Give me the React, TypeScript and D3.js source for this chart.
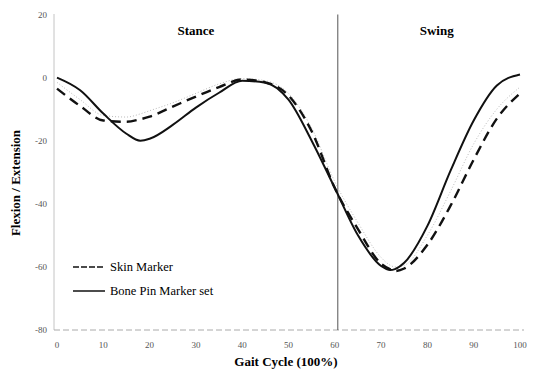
import { useEffect, useRef } from 'react';
import * as d3 from 'd3';

const gaitPct = [0, 5, 10, 15, 18, 20, 25, 30, 35, 40, 45, 50, 55, 60, 65, 70, 72, 73, 75, 80, 85, 90, 95, 100];
const skinMarker = [-3.5, -9, -13.6, -14, -13.2, -12.4, -9.2, -6, -3, -0.6, -1.5, -5.7, -17, -35, -48, -59, -60.8, -61.3, -60.5, -53, -40.6, -26, -13, -5];
const bonePin = [0, -4, -11.4, -17.8, -20, -19.4, -15, -9.5, -4.8, -1, -1.6, -7, -20, -35, -50, -59.7, -61, -60.7, -58.7, -47, -29.5, -13.6, -2.5, 1];
const greyTrace = [-1.5, -7, -12, -12.5, -11.5, -10.5, -8, -5, -2, -0.3, -1, -5, -16, -33, -46, -57, -59.5, -60, -59.5, -50, -36, -21, -10, -3];

const xTicks = [0, 10, 20, 30, 40, 50, 60, 70, 80, 90, 100];
const yTicks = [20, 0, -20, -40, -60, -80];
const phases = [
  { label: 'Stance', at: 30 },
  { label: 'Swing', at: 82 },
];

const W = 538;
const H = 376;

const GaitChart = () => {
  const svgRef = useRef<SVGSVGElement>(null);

  useEffect(() => {
    if (!svgRef.current) return;
    const svg = d3.select(svgRef.current);
    svg.selectAll('*').remove();

    const x = d3.scaleLinear().domain([0, 100]).range([57, 520]);
    const y = d3.scaleLinear().domain([-80, 20]).range([330, 14.5]);
    const font = '"Liberation Serif", "Times New Roman", serif';

    // axes
    svg.append('line')
      .attr('x1', 54).attr('x2', 54)
      .attr('y1', y(20)).attr('y2', y(-80))
      .attr('stroke', '#888').attr('stroke-width', 1)
      .attr('stroke-dasharray', '1,1');
    svg.append('line')
      .attr('x1', 54).attr('x2', 524)
      .attr('y1', y(-80)).attr('y2', y(-80))
      .attr('stroke', '#aaa').attr('stroke-width', 1)
      .attr('stroke-dasharray', '6,3');

    svg.append('g')
      .selectAll('text')
      .data(yTicks)
      .enter()
      .append('text')
      .attr('x', 47)
      .attr('y', d => y(d) + 3)
      .attr('text-anchor', 'end')
      .style('font-family', font)
      .style('font-size', '9px')
      .attr('fill', '#555')
      .text(d => (d < 0 ? '-' + Math.abs(d) : String(d)));

    svg.append('g')
      .selectAll('text')
      .data(xTicks)
      .enter()
      .append('text')
      .attr('x', d => x(d))
      .attr('y', 348)
      .attr('text-anchor', 'middle')
      .style('font-family', font)
      .style('font-size', '9px')
      .attr('fill', '#555')
      .text(d => String(d));

    // stance / swing divider
    svg.append('line')
      .attr('x1', x(60) + 3).attr('x2', x(60) + 3)
      .attr('y1', y(20)).attr('y2', y(-80))
      .attr('stroke', '#555').attr('stroke-width', 1);

    svg.append('g')
      .selectAll('text')
      .data(phases)
      .enter()
      .append('text')
      .attr('x', d => x(d.at))
      .attr('y', 35)
      .attr('text-anchor', 'middle')
      .style('font-family', font)
      .style('font-size', '13px')
      .style('font-weight', 'bold')
      .text(d => d.label);

    const line = (vals: number[]) =>
      d3.line<number>()
        .x((_, i) => x(gaitPct[i]))
        .y(d => y(d))
        .curve(d3.curveMonotoneX)(vals) as string;

    svg.append('path')
      .attr('d', line(greyTrace))
      .attr('fill', 'none')
      .attr('stroke', '#bbb')
      .attr('stroke-width', 1)
      .attr('stroke-dasharray', '1,2');

    svg.append('path')
      .attr('d', line(skinMarker))
      .attr('fill', 'none')
      .attr('stroke', '#111')
      .attr('stroke-width', 2.4)
      .attr('stroke-dasharray', '10,6');

    svg.append('path')
      .attr('d', line(bonePin))
      .attr('fill', 'none')
      .attr('stroke', '#111')
      .attr('stroke-width', 2);

    // legend
    const legend = [
      { label: 'Skin Marker', dash: '6,2', y: 267 },
      { label: 'Bone Pin Marker set', dash: null, y: 291 },
    ];
    const lg = svg.append('g');
    legend.forEach(item => {
      lg.append('line')
        .attr('x1', 73).attr('x2', 105)
        .attr('y1', item.y).attr('y2', item.y)
        .attr('stroke', '#111').attr('stroke-width', 1.5)
        .attr('stroke-dasharray', item.dash);
      lg.append('text')
        .attr('x', 110)
        .attr('y', item.y + 4)
        .style('font-family', font)
        .style('font-size', '12.5px')
        .text(item.label);
    });

    // axis titles
    svg.append('text')
      .attr('transform', `translate(20,183) rotate(-90)`)
      .attr('text-anchor', 'middle')
      .style('font-family', font)
      .style('font-size', '13px')
      .style('font-weight', 'bold')
      .text('Flexion / Extension');

    svg.append('text')
      .attr('x', 286)
      .attr('y', 366)
      .attr('text-anchor', 'middle')
      .style('font-family', font)
      .style('font-size', '13px')
      .style('font-weight', 'bold')
      .text('Gait Cycle (100%)');
  }, []);

  return (
    <svg
      ref={svgRef}
      width={W}
      height={H}
      style={{ position: 'absolute', left: 0, top: 0, display: 'block', background: '#fff' }}
    />
  );
};

export default function App() {
  return <GaitChart />;
}
